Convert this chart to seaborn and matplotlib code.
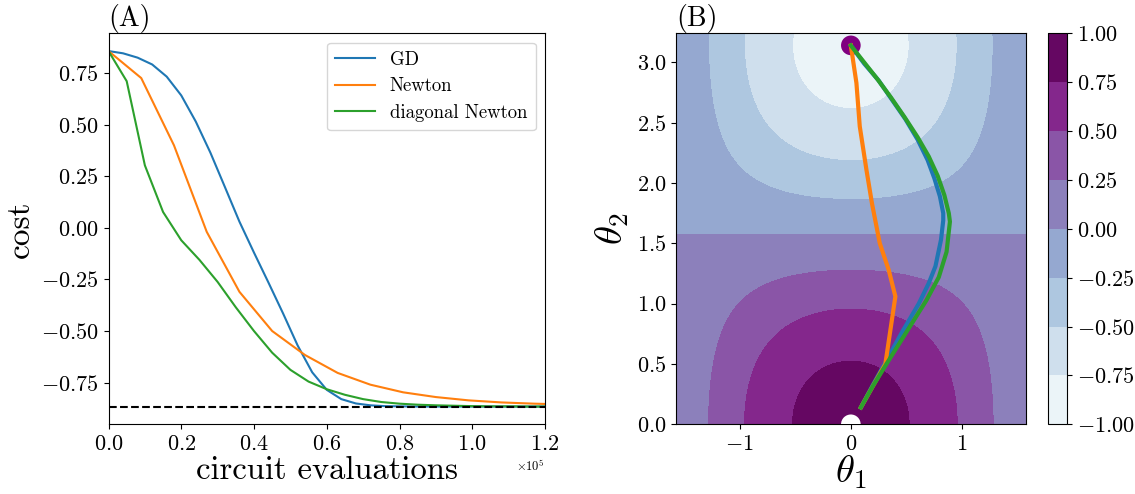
import numpy as np
import pandas as pd
import matplotlib
matplotlib.use("Agg")
import matplotlib.pyplot as plt
import seaborn as sns

plt.rcParams.update({
    "font.family": "serif",
    "font.serif": ["cmr10"],
    "mathtext.fontset": "cm",
    "axes.formatter.use_mathtext": True,
    "axes.unicode_minus": True,
})

# ---------------- Panel A data (circuit evaluations in units of 1e5) ----------------
gd_x = [0.00, 0.04, 0.08, 0.12, 0.16, 0.20, 0.24, 0.28, 0.32, 0.36, 0.40, 0.44, 0.48,
        0.52, 0.56, 0.60, 0.64, 0.68, 0.72, 0.76, 0.80, 0.84, 0.88, 0.92, 0.96, 1.00,
        1.04, 1.08, 1.12, 1.16, 1.20]
gd_cost = [0.857, 0.846, 0.825, 0.792, 0.733, 0.642, 0.515, 0.365, 0.198, 0.030, -0.120,
           -0.266, -0.415, -0.570, -0.700, -0.785, -0.830, -0.851, -0.860, -0.864, -0.865,
           -0.866, -0.866, -0.866, -0.866, -0.866, -0.866, -0.866, -0.866, -0.866, -0.866]

newton_x = [0.00, 0.09, 0.18, 0.27, 0.36, 0.45, 0.54, 0.63, 0.72, 0.81, 0.90, 0.99, 1.08,
            1.17, 1.26]
newton_cost = [0.857, 0.726, 0.400, -0.019, -0.310, -0.500, -0.616, -0.703, -0.760, -0.797,
               -0.820, -0.836, -0.846, -0.852, -0.856]

diag_x = [0.00, 0.05, 0.10, 0.15, 0.20, 0.25, 0.30, 0.35, 0.40, 0.45, 0.50, 0.55, 0.60,
          0.65, 0.70, 0.75, 0.80, 0.85, 0.90, 0.95, 1.00, 1.05, 1.10, 1.15, 1.20]
diag_cost = [0.857, 0.711, 0.303, 0.077, -0.060, -0.155, -0.262, -0.385, -0.500, -0.605,
             -0.688, -0.745, -0.782, -0.809, -0.830, -0.844, -0.852, -0.857, -0.860, -0.862,
             -0.864, -0.865, -0.865, -0.866, -0.866]

ground_energy = -0.866
series_labels = ["GD", "Newton", "diagonal Newton"]
series_colors = ["#1f77b4", "#ff7f0e", "#2ca02c"]

# ---------------- Panel B data (trajectories in parameter space) ----------------
gd_t1 = [0.09, 0.20, 0.32, 0.47, 0.61, 0.70, 0.76, 0.81, 0.83, 0.83, 0.80, 0.75, 0.69,
         0.60, 0.49, 0.37, 0.25, 0.12, 0.00]
gd_t2 = [0.14, 0.33, 0.53, 0.78, 1.00, 1.17, 1.31, 1.53, 1.69, 1.75, 1.89, 2.04, 2.19,
         2.36, 2.53, 2.69, 2.85, 2.99, 3.14]

newton_t1 = [0.09, 0.31, 0.40, 0.34, 0.26, 0.19, 0.14, 0.08, 0.05, 0.00]
newton_t2 = [0.14, 0.50, 1.06, 1.28, 1.50, 1.83, 2.11, 2.47, 2.83, 3.14]

diag_t1 = [0.09, 0.20, 0.32, 0.53, 0.68, 0.79, 0.86, 0.89, 0.88, 0.84, 0.78, 0.70,
           0.60, 0.48, 0.36, 0.24, 0.12, 0.00]
diag_t2 = [0.14, 0.32, 0.50, 0.81, 1.03, 1.22, 1.43, 1.68, 1.75, 1.90, 2.06, 2.22,
           2.38, 2.55, 2.71, 2.86, 3.00, 3.14]

cost_amplitude = 0.866
levels = [-1.0, -0.75, -0.5, -0.25, 0.0, 0.25, 0.5, 0.75, 1.0]

# ---------------- Figure ----------------
W, H = 1135, 494
fig = plt.figure(figsize=(W / 100, H / 100), dpi=100)

def box(x0, x1, ytop, ybot):
    return [x0 / W, 1 - ybot / H, (x1 - x0) / W, (ybot - ytop) / H]

axA = fig.add_axes(box(108.5, 545, 33.3, 424.3))
axB = fig.add_axes(box(676, 1025.7, 33.3, 424.3))
cax = fig.add_axes(box(1047.5, 1067, 33.3, 424.3))

# Panel A
for xs, ys, lab, col in zip([gd_x, newton_x, diag_x], [gd_cost, newton_cost, diag_cost],
                            series_labels, series_colors):
    df = pd.DataFrame({"evals": np.array(xs) * 1e5, "cost": ys})
    sns.lineplot(data=df, x="evals", y="cost", ax=axA, color=col, label=lab,
                 linewidth=1.5, estimator=None, sort=False)
axA.axhline(ground_energy, color="black", linestyle="--", linewidth=1.5, zorder=5)
axA.set_xlim(0, 1.2e5)
axA.set_ylim(-0.952, 0.943)
axA.set_xticks([0, 0.2e5, 0.4e5, 0.6e5, 0.8e5, 1.0e5, 1.2e5])
axA.set_yticks([-0.75, -0.5, -0.25, 0.0, 0.25, 0.5, 0.75])
axA.ticklabel_format(axis="x", style="sci", scilimits=(0, 0), useMathText=True)
axA.tick_params(labelsize=16)
axA.xaxis.get_offset_text().set_fontsize(9)
axA.set_xlabel("circuit evaluations", fontsize=23.5, labelpad=2)
axA.set_ylabel("cost", fontsize=24)
leg = axA.legend(loc="upper right", fontsize=13.5, handlelength=2.1, borderpad=0.45,
                 labelspacing=0.45, handletextpad=0.8, borderaxespad=0.5)
axA.text(0.0, 1.0, "(A)", transform=axA.transAxes, ha="left", va="bottom", fontsize=20)

# Panel B
t1 = np.linspace(-np.pi / 2, np.pi / 2, 300)
t2 = np.linspace(0, np.pi + 0.1, 300)
T1, T2 = np.meshgrid(t1, t2)
F = cost_amplitude * np.cos(T1) * np.cos(T2)
cs = axB.contourf(T1, T2, F, levels=levels, cmap="BuPu")

sns.scatterplot(x=[0.0], y=[np.pi], ax=axB, s=200, color="purple", edgecolor="none", zorder=3)
sns.scatterplot(x=[0.0], y=[0.0], ax=axB, s=200, color="white", edgecolor="none", zorder=3)

for xs, ys, col in zip([gd_t1, newton_t1, diag_t1], [gd_t2, newton_t2, diag_t2], series_colors):
    sns.lineplot(x=xs, y=ys, ax=axB, color=col, linewidth=3, sort=False, estimator=None, zorder=4)

axB.set_xlim(-np.pi / 2, np.pi / 2)
axB.set_ylim(0, np.pi + 0.1)
axB.set_xticks([-1, 0, 1])
axB.set_yticks([0.0, 0.5, 1.0, 1.5, 2.0, 2.5, 3.0])
axB.tick_params(labelsize=16)
axB.set_xlabel(r"$\theta_1$", fontsize=28, labelpad=0)
axB.set_ylabel(r"$\theta_2$", fontsize=28)
axB.text(0.0, 1.0, "(B)", transform=axB.transAxes, ha="left", va="bottom", fontsize=20)

cb = fig.colorbar(cs, cax=cax, ticks=levels)
cb.ax.tick_params(labelsize=16)

fig.savefig("out.png", dpi=100)
